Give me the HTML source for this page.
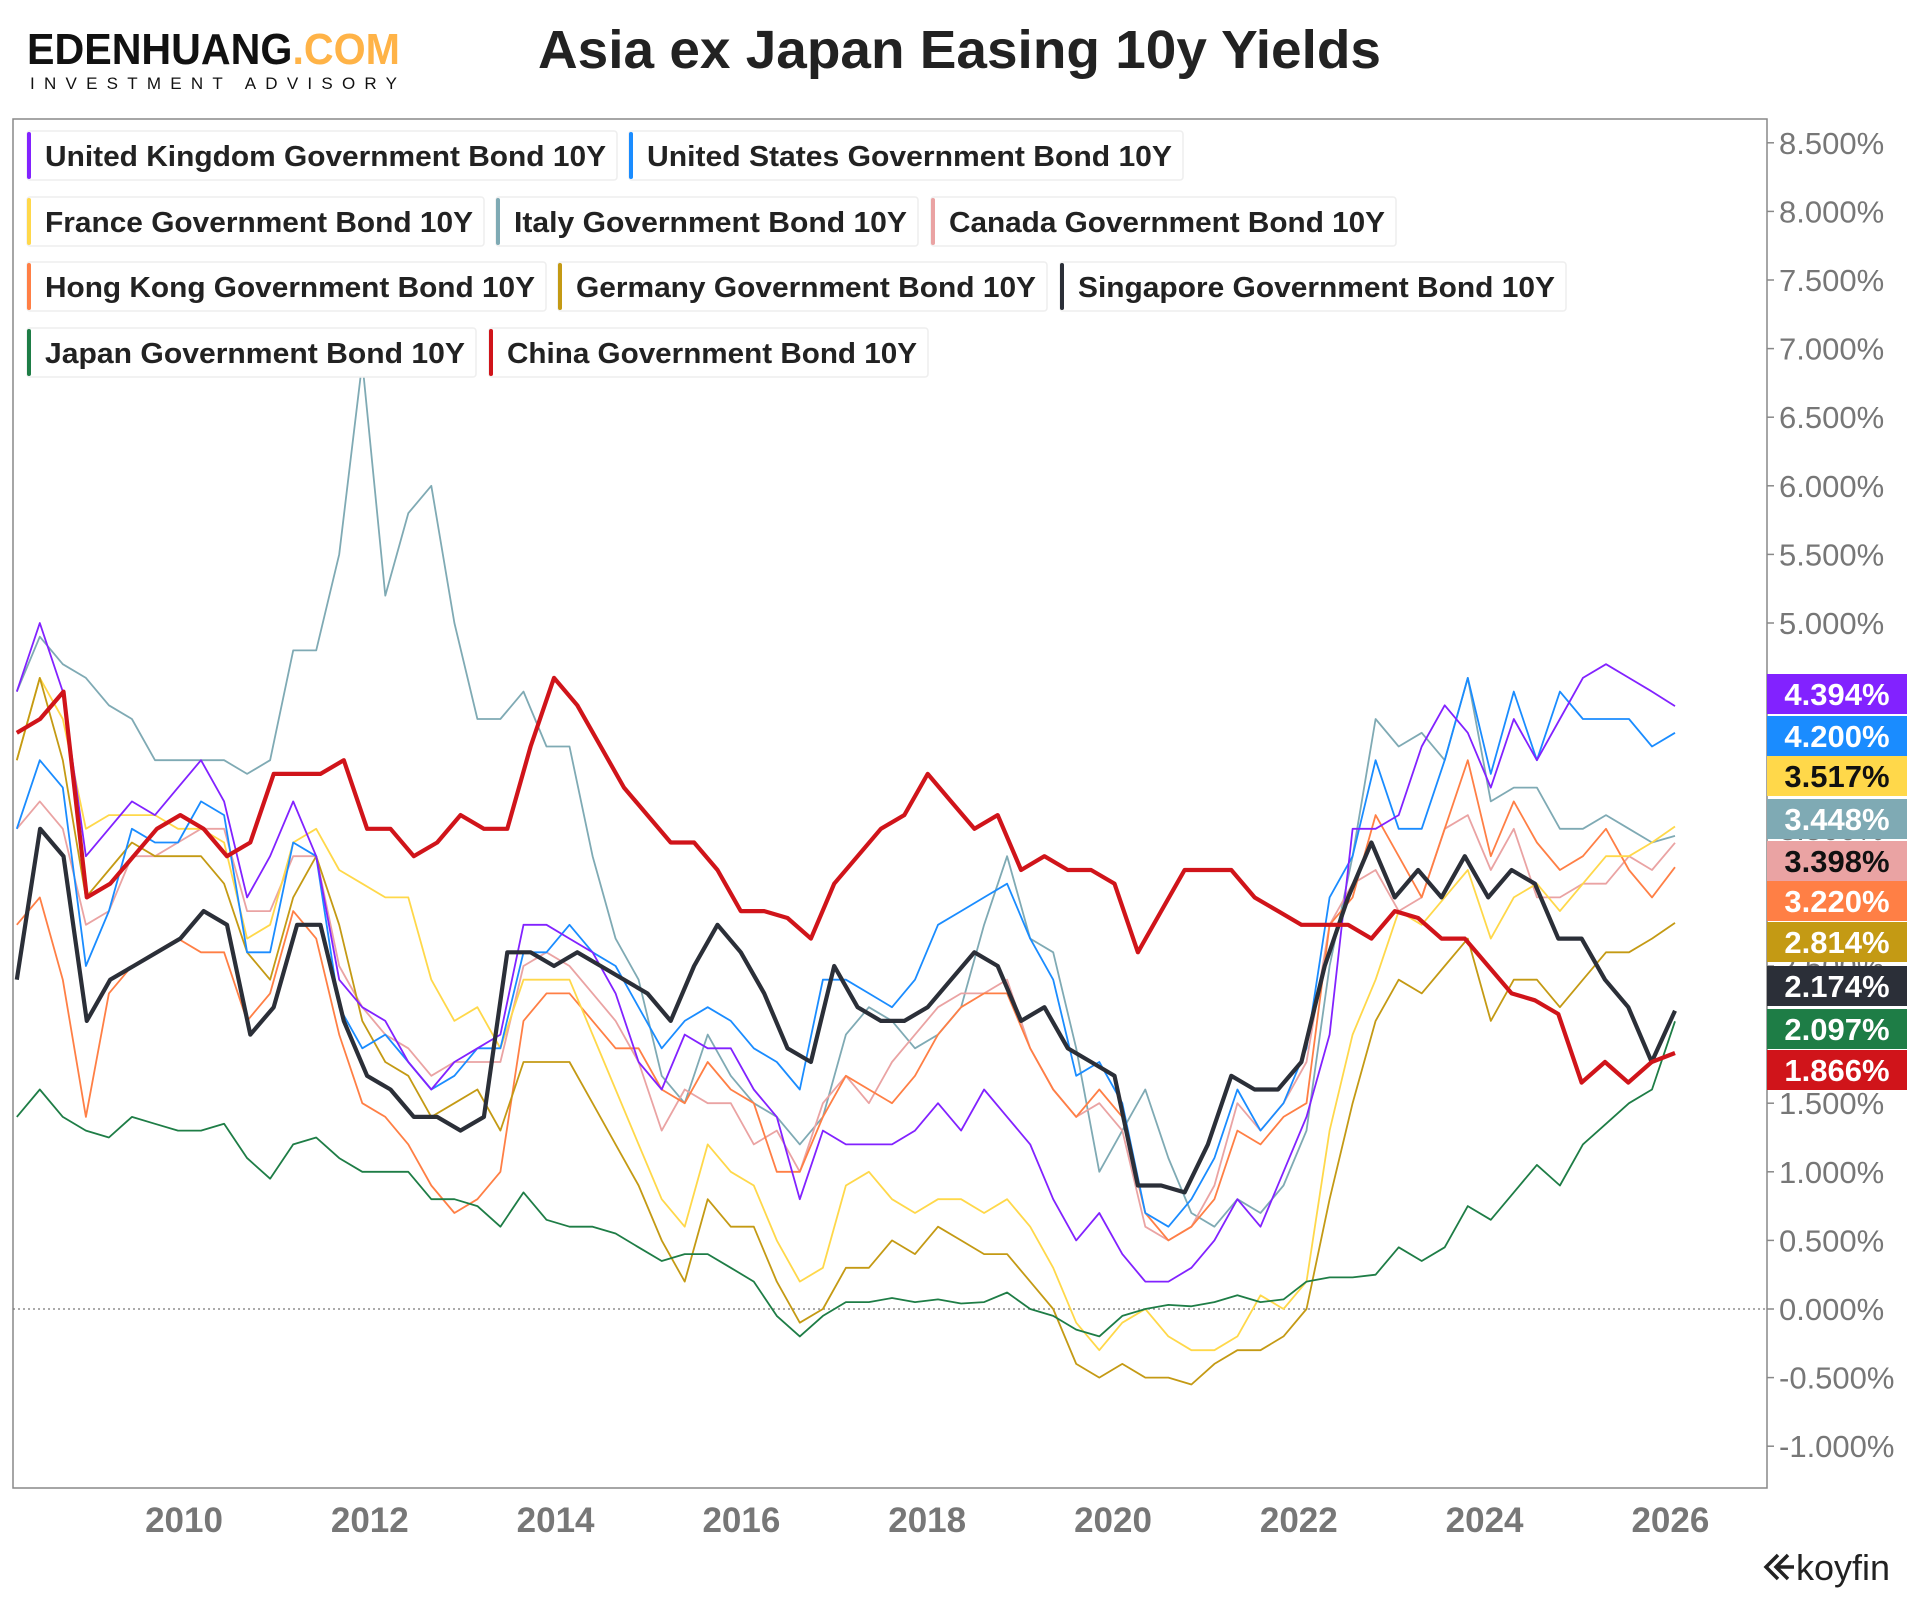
<!DOCTYPE html>
<html><head><meta charset="utf-8"><style>
html,body{margin:0;padding:0;background:#fff;}
svg{display:block;font-family:"Liberation Sans",sans-serif;}
</style></head><body>
<svg id="chart" width="1920" height="1600" viewBox="0 0 1920 1600">
<g>
<text x="27" y="64" font-size="44" font-weight="bold" textLength="373" lengthAdjust="spacingAndGlyphs" fill="#111">EDENHUANG<tspan fill="#ffb347">.COM</tspan></text>
<text x="30" y="89" font-size="17" textLength="367" lengthAdjust="spacing" fill="#111">INVESTMENT ADVISORY</text>
</g>
<text x="538" y="68" font-size="54" font-weight="bold" fill="#222" textLength="843" lengthAdjust="spacingAndGlyphs">Asia ex Japan Easing 10y Yields</text>
<rect x="13" y="119" width="1754" height="1369" fill="none" stroke="#888" stroke-width="1.5"/>
<defs><clipPath id="clip"><rect x="13" y="119" width="1754" height="1369"/></clipPath></defs>
<g id="yaxis"></g>
<g id="xaxis"></g>
<g id="lines" clip-path="url(#clip)"></g>
<g id="legend"></g>
<g id="badges"></g>
<g>
<path d="M1778 1555 l-12 12 l12 12 M1788 1555 l-12 12 l12 12 M1778 1567 h16" stroke="#222" stroke-width="3.5" fill="none"/>
<text x="1796" y="1580" font-size="36" fill="#222">koyfin</text>
</g>
</svg>
<script>
const xTicks=[2010,2012,2014,2016,2018,2020,2022,2024,2026];
const yTicks=[-1,-0.5,0,0.5,1,1.5,2,2.5,3,3.5,4,4.5,5,5.5,6,6.5,7,7.5,8,8.5];
const seriesNames=["United Kingdom Government Bond 10Y","United States Government Bond 10Y","France Government Bond 10Y","Italy Government Bond 10Y","Canada Government Bond 10Y","Hong Kong Government Bond 10Y","Germany Government Bond 10Y","Singapore Government Bond 10Y","Japan Government Bond 10Y","China Government Bond 10Y"];
const seriesColors=["#8222ff","#1a8cff","#ffd84a","#7faab4","#eaa3a3","#ff7f45","#c49a14","#2b2f38","#1e7d46","#d0141a"];
const ukValues=[4.5,5.0,4.5,3.3,3.5,3.7,3.6,3.8,4.0,3.7,3.0,3.3,3.7,3.3,2.4,2.2,2.1,1.8,1.6,1.8,1.9,2.0,2.8,2.8,2.7,2.6,2.3,1.8,1.6,2.0,1.9,1.9,1.6,1.4,0.8,1.3,1.2,1.2,1.2,1.3,1.5,1.3,1.6,1.4,1.2,0.8,0.5,0.7,0.4,0.2,0.2,0.3,0.5,0.8,0.6,1.0,1.4,2.0,3.5,3.5,3.6,4.1,4.4,4.2,3.8,4.3,4.0,4.3,4.6,4.7,4.6,4.5,4.394];
const usValues=[3.5,4.0,3.8,2.5,2.9,3.5,3.4,3.4,3.7,3.6,2.6,2.6,3.4,3.3,2.2,1.9,2.0,1.8,1.6,1.7,1.9,1.9,2.6,2.6,2.8,2.6,2.5,2.2,1.9,2.1,2.2,2.1,1.9,1.8,1.6,2.4,2.4,2.3,2.2,2.4,2.8,2.9,3.0,3.1,2.7,2.4,1.7,1.8,1.5,0.7,0.6,0.8,1.1,1.6,1.3,1.5,1.9,3.0,3.3,4.0,3.5,3.5,4.0,4.6,3.9,4.5,4.0,4.5,4.3,4.3,4.3,4.1,4.2];
const franceValues=[4.0,4.6,4.3,3.5,3.6,3.6,3.6,3.5,3.5,3.4,2.7,2.8,3.4,3.5,3.2,3.1,3.0,3.0,2.4,2.1,2.2,1.9,2.4,2.4,2.4,2.0,1.6,1.2,0.8,0.6,1.2,1.0,0.9,0.5,0.2,0.3,0.9,1.0,0.8,0.7,0.8,0.8,0.7,0.8,0.6,0.3,-0.1,-0.3,-0.1,0.0,-0.2,-0.3,-0.3,-0.2,0.1,0.0,0.2,1.3,2.0,2.4,2.9,2.8,3.0,3.2,2.7,3.0,3.1,2.9,3.1,3.3,3.3,3.4,3.517];
const italyValues=[4.5,4.9,4.7,4.6,4.4,4.3,4.0,4.0,4.0,4.0,3.9,4.0,4.8,4.8,5.5,6.9,5.2,5.8,6.0,5.0,4.3,4.3,4.5,4.1,4.1,3.3,2.7,2.4,1.7,1.5,2.0,1.7,1.5,1.4,1.2,1.4,2.0,2.2,2.1,1.9,2.0,2.2,2.8,3.3,2.7,2.6,1.9,1.0,1.3,1.6,1.1,0.7,0.6,0.8,0.7,0.9,1.3,2.5,3.3,4.3,4.1,4.2,4.0,4.6,3.7,3.8,3.8,3.5,3.5,3.6,3.5,3.4,3.448];
const canadaValues=[3.5,3.7,3.5,2.8,2.9,3.3,3.3,3.4,3.5,3.5,2.9,2.9,3.3,3.3,2.5,2.2,2.0,1.9,1.7,1.8,1.8,1.8,2.5,2.6,2.5,2.3,2.1,1.8,1.3,1.6,1.5,1.5,1.2,1.3,1.0,1.5,1.7,1.5,1.8,2.0,2.2,2.3,2.3,2.4,1.9,1.6,1.4,1.5,1.3,0.6,0.5,0.6,0.9,1.5,1.3,1.5,1.8,2.8,3.1,3.2,2.9,3.0,3.5,3.6,3.2,3.5,3.0,3.0,3.1,3.1,3.3,3.2,3.398];
const hongKongValues=[2.8,3.0,2.4,1.4,2.3,2.5,2.6,2.7,2.6,2.6,2.1,2.3,2.9,2.7,2.0,1.5,1.4,1.2,0.9,0.7,0.8,1.0,2.1,2.3,2.3,2.1,1.9,1.9,1.6,1.5,1.8,1.6,1.5,1.0,1.0,1.4,1.7,1.6,1.5,1.7,2.0,2.2,2.3,2.3,1.9,1.6,1.4,1.6,1.4,0.7,0.5,0.6,0.8,1.3,1.2,1.4,1.5,2.8,3.0,3.6,3.3,3.0,3.5,4.0,3.3,3.7,3.4,3.2,3.3,3.5,3.2,3.0,3.22];
const germanyValues=[4.0,4.6,4.0,3.0,3.2,3.4,3.3,3.3,3.3,3.1,2.6,2.4,3.0,3.3,2.8,2.1,1.8,1.7,1.4,1.5,1.6,1.3,1.8,1.8,1.8,1.5,1.2,0.9,0.5,0.2,0.8,0.6,0.6,0.2,-0.1,0.0,0.3,0.3,0.5,0.4,0.6,0.5,0.4,0.4,0.2,0.0,-0.4,-0.5,-0.4,-0.5,-0.5,-0.55,-0.4,-0.3,-0.3,-0.2,0.0,0.8,1.5,2.1,2.4,2.3,2.5,2.7,2.1,2.4,2.4,2.2,2.4,2.6,2.6,2.7,2.814];
const singaporeValues=[2.4,3.5,3.3,2.1,2.4,2.5,2.6,2.7,2.9,2.8,2.0,2.2,2.8,2.8,2.1,1.7,1.6,1.4,1.4,1.3,1.4,2.6,2.6,2.5,2.6,2.5,2.4,2.3,2.1,2.5,2.8,2.6,2.3,1.9,1.8,2.5,2.2,2.1,2.1,2.2,2.4,2.6,2.5,2.1,2.2,1.9,1.8,1.7,0.9,0.9,0.85,1.2,1.7,1.6,1.6,1.8,2.5,3.0,3.4,3.0,3.2,3.0,3.3,3.0,3.2,3.1,2.7,2.7,2.4,2.2,1.8,2.174];
const japanValues=[1.4,1.6,1.4,1.3,1.25,1.4,1.35,1.3,1.3,1.35,1.1,0.95,1.2,1.25,1.1,1.0,1.0,1.0,0.8,0.8,0.75,0.6,0.85,0.65,0.6,0.6,0.55,0.45,0.35,0.4,0.4,0.3,0.2,-0.05,-0.2,-0.05,0.05,0.05,0.08,0.05,0.07,0.04,0.05,0.12,0.0,-0.05,-0.15,-0.2,-0.05,0.0,0.03,0.02,0.05,0.1,0.05,0.07,0.2,0.23,0.23,0.25,0.45,0.35,0.45,0.75,0.65,0.85,1.05,0.9,1.2,1.35,1.5,1.6,2.097];
const chinaValues=[4.2,4.3,4.5,3.0,3.1,3.3,3.5,3.6,3.5,3.3,3.4,3.9,3.9,3.9,4.0,3.5,3.5,3.3,3.4,3.6,3.5,3.5,4.1,4.6,4.4,4.1,3.8,3.6,3.4,3.4,3.2,2.9,2.9,2.85,2.7,3.1,3.3,3.5,3.6,3.9,3.7,3.5,3.6,3.2,3.3,3.2,3.2,3.1,2.6,2.9,3.2,3.2,3.2,3.0,2.9,2.8,2.8,2.8,2.7,2.9,2.85,2.7,2.7,2.5,2.3,2.25,2.15,1.65,1.8,1.65,1.8,1.866];
const lastLabels=["4.394%","4.200%","3.517%","3.448%","3.398%","3.220%","2.814%","2.174%","2.097%","1.866%"];
const startYear=2008.2, endYear=2026.05;

const NS="http://www.w3.org/2000/svg";
function el(tag,attrs,parent){const e=document.createElementNS(NS,tag);for(const k in attrs)e.setAttribute(k,attrs[k]);parent.appendChild(e);return e;}
function xScale(yr){return 184+(yr-2010)*92.9;}
function yScale(v){return 1309-v*137.2;}

const yAxis=document.getElementById('yaxis');
yTicks.forEach(v=>{
  const y=yScale(v);
  const t=el('line',{x1:1767,x2:1774,y1:y,y2:y,stroke:'#888','stroke-width':1.5},yAxis);
  
  
  const tx=el('text',{x:1779,y:y+11,'font-size':31,fill:'#777'},yAxis);
  tx.textContent=v.toFixed(3)+'%';
  
  
});
const zl=el('line',{x1:13,x2:1767,y1:yScale(0),y2:yScale(0),stroke:'#777','stroke-width':1.3,'stroke-dasharray':'2,3'},yAxis);



const xAxis=document.getElementById('xaxis');
xTicks.forEach(yr=>{
  const tx=el('text',{x:xScale(yr),y:1532,'font-size':35,'font-weight':'bold',fill:'#777','text-anchor':'middle'},xAxis);
  tx.textContent=yr;
  
  
});

const allValues=[ukValues,usValues,franceValues,italyValues,canadaValues,hongKongValues,germanyValues,singaporeValues,japanValues,chinaValues];
const seriesKeys=["uk","us","france","italy","canada","hong-kong","germany","singapore","japan","china"];
const linesG=document.getElementById('lines');
const order=[3,4,5,2,6,1,0,8,7,9];
order.forEach(i=>{
  const vals=allValues[i];const n=vals.length;
  let d='';
  vals.forEach((v,j)=>{const yr=startYear+(endYear-startYear)*j/(n-1);d+=(j?'L':'M')+xScale(yr).toFixed(1)+' '+yScale(v).toFixed(1);});
  const thick=(i===7||i===9);
  const p=el('path',{d:d,fill:'none',stroke:seriesColors[i],'stroke-width':thick?4.2:1.8,'stroke-linejoin':'round'},linesG);
  
  
});

const legendRows=[[0,1],[2,3,4],[5,6,7],[8,9]];
const legendBoxes=[[[27,617],[629,1183]],[[27,484],[496,918],[931,1396]],[[27,546],[558,1047],[1060,1566]],[[27,476],[489,928]]];
const rowTops=[131,197,262,328];
const legendG=document.getElementById('legend');
legendRows.forEach((row,r)=>{
  row.forEach((si,k)=>{
    const b=legendBoxes[r][k];const top=rowTops[r];
    const g=el('g',{},legendG);
    
    
    el('rect',{x:b[0],y:top,width:b[1]-b[0],height:49,rx:3,fill:'#fff',stroke:'#eee','stroke-width':1.5},g);
    el('rect',{x:b[0],y:top+1,width:4,height:47,rx:2,fill:seriesColors[si]},g);
    const t=el('text',{x:b[0]+18,y:top+35,'font-size':29,'font-weight':'bold',fill:'#222',textLength:b[1]-b[0]-29,lengthAdjust:'spacingAndGlyphs'},g);
    t.textContent=seriesNames[si];
  });
});

const badgeY=[694,736,776,819,861,901,942,986,1029,1070];
const darkText=[2,4];
const badgesG=document.getElementById('badges');
lastLabels.forEach((lab,i)=>{
  const g=el('g',{},badgesG);
  
  
  el('rect',{x:1767,y:badgeY[i]-20,width:140,height:40,fill:seriesColors[i]},g);
  const t=el('text',{x:1837,y:badgeY[i]+11,'font-size':31,'font-weight':'bold','text-anchor':'middle',fill:darkText.includes(i)?'#111':'#fff'},g);
  t.textContent=lab;
});
</script>
</body></html>
